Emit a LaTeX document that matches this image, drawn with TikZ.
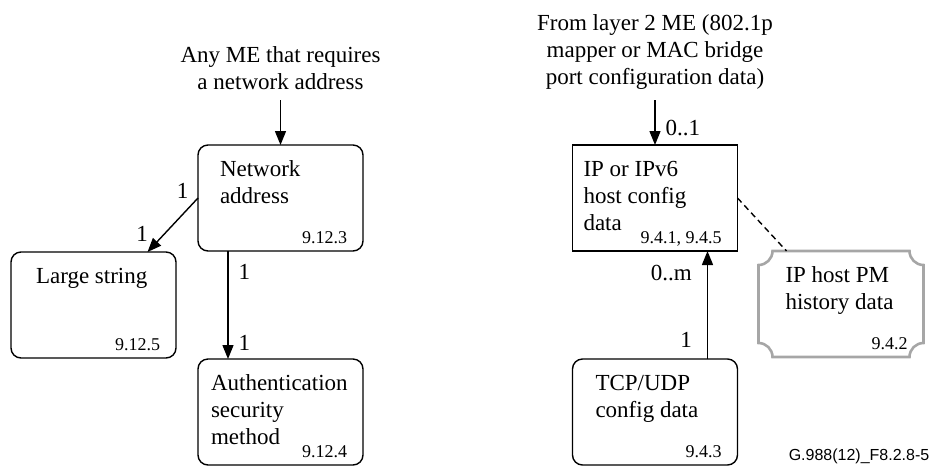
\documentclass[tikz,border=0pt]{standalone}
\usepackage{fontspec}
\setmainfont{Liberation Serif}
\setsansfont{Liberation Sans}
\usetikzlibrary{arrows.meta,positioning}

\newcommand{\txtsize}{\fontsize{11.5}{13.5}\selectfont}
\newcommand{\refsize}{\fontsize{9}{10}\selectfont}

\begin{document}
\begin{tikzpicture}[x=0.5pt,y=-0.5pt,>={Triangle[length=7pt,width=5.5pt]},
  line width=0.7pt,
  me box/.style={draw,rounded corners=5pt,minimum width=82.5pt,
    minimum height=53pt,inner sep=0pt,outer sep=0pt},
  me title/.style={anchor=north west,align=left,inner sep=0pt,
    outer sep=0pt,yshift=-8pt,font=\txtsize},
  me ref/.style={anchor=base east,inner sep=0pt,outer sep=0pt,
    xshift=-8pt,yshift=4pt,font=\refsize},
  note/.style={align=center,inner sep=0pt,font=\txtsize},
  mult/.style={font=\txtsize,inner sep=2pt},
  pm line/.style={draw=black!35,line width=1.3pt},
  dashed line/.style={dash pattern=on 3pt off 2pt}]

  \useasboundingbox (0,0) rectangle (933,468);

  % left part
  \node[me box] (na) at (280.5,198)
    [label={[me title,xshift=11pt]north west:Network\\address},
     label={[me ref]south east:9.12.3}] {};
  \node[me box] (ls) [below left=0.5pt and 11pt of na,
     label={[me title,xshift=12.5pt]north west:Large string},
     label={[me ref]south east:9.12.5}] {};
  \node[me box] (auth) [below=54pt of na,
     label={[me title,xshift=6.5pt]north west:Authentication\\security\\method},
     label={[me ref]south east:9.12.4}] {};
  \node[note] (anyme) [above=27.5pt of na] {Any ME that requires\\a network address};

  % right part
  \node[me box,sharp corners] (ip) at (655,198)
    [label={[me title,xshift=5.5pt]north west:IP or IPv6\\host config\\data},
     label={[me ref]south east:9.4.1, 9.4.5}] {};
  \node[me box] (tcp) [below=54pt of ip,
     label={[me title,xshift=11.5pt]north west:TCP/UDP\\config data},
     label={[me ref]south east:9.4.3}] {};
  \node[me box,draw=none] (pm) [below right=0pt and 10.5pt of ip,
     label={[me title,xshift=13.5pt]north west:IP host PM\\history data},
     label={[me ref]south east:9.4.2}] {};
  \node[note] (from) [above=27.5pt of ip]
    {From layer 2 ME (802.1p\\mapper or MAC bridge\\port configuration data)};

  \node[font=\sffamily\fontsize{8}{9}\selectfont,anchor=base east,inner sep=0pt]
    (figid) at (930,460) {G.988(12)\_F8.2.8-5};

  % gray box with scooped corners
  \draw[pm line] ([xshift=7pt]pm.north west) -- ([xshift=-7pt]pm.north east)
    arc[start angle=180,end angle=270,radius=7pt] -- ([yshift=7pt]pm.south east)
    arc[start angle=90,end angle=180,radius=7pt] -- ([xshift=7pt]pm.south west)
    arc[start angle=0,end angle=90,radius=7pt] -- ([yshift=-7pt]pm.north west)
    arc[start angle=270,end angle=360,radius=7pt] -- cycle;

  \path[->]
    (anyme) edge[shorten <=5pt] (na)
    (na.west) edge node[mult,above left,pos=.1] {1}
                   node[mult,above left,pos=.9] {1} ([xshift=27pt]ls.north)
    ([xshift=15pt]na.south west) edge node[mult,right=3pt,pos=.19] {1}
                   node[mult,right=3pt,pos=.85] {1} ([xshift=15pt]auth.north west)
    (from) edge[shorten <=5pt] node[mult,right=3pt,pos=.7] {0..1} (ip)
    ([xshift=-15pt]tcp.north east) edge node[mult,left=5.5pt,pos=.18] {1}
                   node[mult,left=5.5pt,pos=.8] {0..m} ([xshift=-15pt]ip.south east);
  \draw[dashed line] (ip.east) -- ([xshift=14pt]pm.north west);
\end{tikzpicture}
\end{document}
